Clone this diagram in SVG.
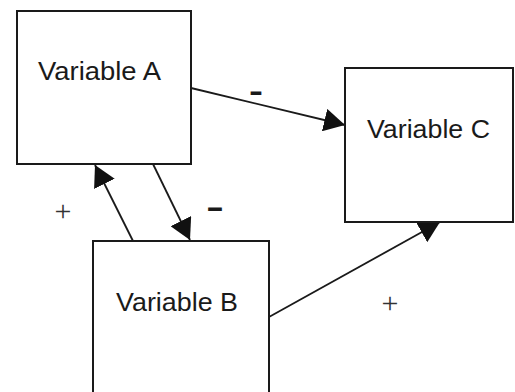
<svg xmlns="http://www.w3.org/2000/svg" width="515" height="392" viewBox="0 0 515 392">
  <style>
    .box { fill: #ffffff; stroke: #1a1a1a; stroke-width: 2; }
    .label { font-family: "Liberation Sans", Arial, sans-serif; font-size: 26px; fill: #1a1a1a; }
    .link { stroke: #1a1a1a; stroke-width: 1.8; fill: none; marker-end: url(#head); }
    .minus { font-family: "Liberation Sans", Arial, sans-serif; font-size: 30px; font-weight: bold; fill: #1a1a1a; }
    .plus { font-family: "Liberation Serif", "Times New Roman", serif; font-size: 30px; fill: #333333; text-anchor: middle; }
  </style>
  <defs>
    <marker id="head" markerUnits="userSpaceOnUse" markerWidth="21" markerHeight="23" refX="21" refY="11.5" orient="auto">
      <path d="M0,0 L21,11.5 L0,23 Z" fill="#111111"/>
    </marker>
  </defs>
  <rect width="515" height="392" fill="#ffffff"/>

  <!-- causal links -->
  <g id="connectors">
    <line class="link" x1="191" y1="88" x2="345" y2="125"/>
    <line class="link" x1="153" y1="164" x2="190" y2="240"/>
    <line class="link" x1="133" y1="241" x2="95" y2="165"/>
    <line class="link" x1="269" y1="317" x2="440" y2="222"/>
  </g>

  <g id="variable-a">
    <rect class="box" x="17" y="11" width="174" height="153"/>
    <text class="label" x="38" y="80" textLength="123" lengthAdjust="spacingAndGlyphs">Variable A</text>
  </g>
  <g id="variable-c">
    <rect class="box" x="345" y="68" width="168" height="154"/>
    <text class="label" x="367" y="138" textLength="123" lengthAdjust="spacingAndGlyphs">Variable C</text>
  </g>
  <g id="variable-b">
    <rect class="box" x="93" y="241" width="176" height="170"/>
    <text class="label" x="116" y="311" textLength="122" lengthAdjust="spacingAndGlyphs">Variable B</text>
  </g>

  <!-- link polarities -->
  <g id="polarities">
    <text class="minus" x="249" y="101" textLength="14" lengthAdjust="spacingAndGlyphs">-</text>
    <text class="minus" x="206" y="217" textLength="18" lengthAdjust="spacingAndGlyphs">-</text>
    <text class="plus" x="63" y="221">+</text>
    <text class="plus" x="390" y="313">+</text>
  </g>
</svg>
